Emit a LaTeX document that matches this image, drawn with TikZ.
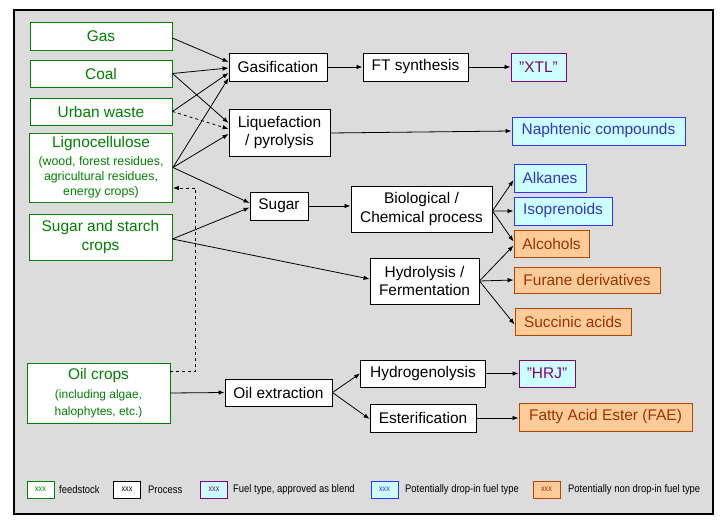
\documentclass[tikz,border=0pt]{standalone}
\usepackage{fontspec}
\setmainfont{Liberation Sans}
\newfontfamily\legfont[FakeStretch=0.86]{Liberation Sans}
\usetikzlibrary{arrows.meta}
\definecolor{bgc}{HTML}{DCDCDC}
\definecolor{feedc}{HTML}{008000}
\definecolor{purp}{HTML}{800080}
\definecolor{cyanf}{HTML}{CCFFFF}
\definecolor{blueb}{HTML}{3333FF}
\definecolor{bluet}{HTML}{3333CC}
\definecolor{orf}{HTML}{FFCC99}
\definecolor{orb}{HTML}{B34700}
\definecolor{ort}{HTML}{993300}
\tikzset{
  box/.style={rectangle, inner sep=0pt, line width=0.9bp, align=center, font=\fontsize{15.5}{18.5}\selectfont},
  feed/.style={box, draw=feedc, fill=white, text=feedc},
  proc/.style={box, draw=black, fill=white, text=black},
  appr/.style={box, draw=purp, fill=cyanf, text=purp},
  dropin/.style={box, draw=blueb, fill=cyanf, text=bluet},
  nondrop/.style={box, draw=orb, fill=orf, text=ort},
  conn/.style={line width=0.8bp, -{Latex[length=6bp,width=4.5bp]}},
  legbox/.style={minimum width=27bp, minimum height=17bp, font=\legfont\fontsize{8.5}{9}\selectfont},
  legtext/.style={anchor=west, inner sep=0pt, font=\legfont\fontsize{11}{12}\selectfont}
}
\begin{document}
\begin{tikzpicture}[x=1bp,y=-1bp]
\useasboundingbox (0,0) rectangle (727,526);
\draw[fill=bgc, line width=1.2bp] (14,10) rectangle (713,514);

% feedstocks
\node[feed, minimum width=142bp, minimum height=28bp] (gas) at (101,36) {Gas};
\node[feed, minimum width=142bp, minimum height=27bp] (coal) at (101,73.5) {Coal};
\node[feed, minimum width=142bp, minimum height=27bp] (urban) at (101,111.5) {Urban waste};
\node[feed, minimum width=143bp, minimum height=69bp] (ligno) at (101,167.5)
  {Lignocellulose\\[-1bp]{\fontsize{12.4}{14}\selectfont (wood, forest residues,}\\[-3bp]{\fontsize{12.4}{14}\selectfont agricultural residues,}\\[-3bp]{\fontsize{12.4}{14}\selectfont energy crops)}};
\node[feed, minimum width=143bp, minimum height=46bp] (sugarcrops) at (100.5,237) {Sugar and starch\\crops};
\node[feed, minimum width=143bp, minimum height=60bp] (oilcrops) at (98.5,393)
  {Oil crops\\[1bp]{\fontsize{12}{14}\selectfont (including algae,}\\[-2bp]{\fontsize{12}{14}\selectfont halophytes, etc.)}};

% processes
\node[proc, minimum width=98bp, minimum height=28bp] (gasif) at (278,67) {Gasification};
\node[proc, minimum width=105bp, minimum height=28bp] (ft) at (415.5,67) {FT synthesis};
\node[proc, minimum width=101bp, minimum height=47bp] (liq) at (279.5,132.5) {Liquefaction\\/ pyrolysis};
\node[proc, minimum width=58bp, minimum height=28bp] (sugar) at (279,206) {Sugar};
\node[proc, minimum width=141bp, minimum height=46bp] (bio) at (421.5,209) {Biological /\\Chemical process};
\node[proc, minimum width=109bp, minimum height=46bp] (hydro) at (424.5,281) {Hydrolysis /\\Fermentation};
\node[proc, minimum width=107bp, minimum height=27bp] (oilext) at (278.5,392.5) {Oil extraction};
\node[proc, minimum width=125bp, minimum height=27bp] (hydrogen) at (423,373.5) {Hydrogenolysis};
\node[proc, minimum width=106bp, minimum height=28bp] (ester) at (423,418) {Esterification};

% products
\node[appr, minimum width=55bp, minimum height=28bp] (xtl) at (538.5,67) {"XTL"};
\node[dropin, minimum width=173bp, minimum height=28bp] (naph) at (598.5,131) {Naphtenic compounds};
\node[dropin, minimum width=72bp, minimum height=28bp] (alk) at (550,178) {Alkanes};
\node[dropin, minimum width=98bp, minimum height=28bp] (iso) at (563,211) {Isoprenoids};
\node[nondrop, minimum width=75bp, minimum height=27bp] (alc) at (551.5,243.5) {Alcohols};
\node[nondrop, minimum width=146bp, minimum height=26bp] (furane) at (587,280) {Furane derivatives};
\node[nondrop, minimum width=116bp, minimum height=27bp] (succ) at (573,321.5) {Succinic acids};
\node[appr, minimum width=56bp, minimum height=27bp] (hrj) at (547,373.5) {"HRJ"};
\node[nondrop, minimum width=173bp, minimum height=28bp] (fae) at (605.5,417) {Fatty Acid Ester (FAE)};

% connectors
\draw[conn] ([yshift=-2bp]gas.east) -- ([yshift=5bp]gasif.west);
\draw[conn] (coal.east) -- ([yshift=-1bp]gasif.west);
\draw[conn] (urban.east) -- ([yshift=-6bp]gasif.west);
\draw[conn] (ligno.east) -- ([yshift=-11bp]gasif.west);
\draw[conn] (coal.east) -- ([yshift=9.5bp]liq.west);
\draw[conn, dashed] (urban.east) -- ([yshift=3.5bp]liq.west);
\draw[conn] (ligno.east) -- ([yshift=-1.5bp]liq.west);
\draw[conn] (ligno.east) -- ([yshift=3bp]sugar.west);
\draw[conn] ([yshift=-2bp]sugarcrops.east) -- ([yshift=-1.5bp]sugar.west);
\draw[conn] ([yshift=-2bp]sugarcrops.east) -- ([yshift=2bp]hydro.west);
\draw[conn] (gasif) -- (ft);
\draw[conn] (ft) -- (xtl);
\draw[conn] ([yshift=-0.5bp]liq.east) -- (naph.west |- 0,131);
\draw[conn] (sugar) -- (sugar.east -| bio.west);
\draw[conn] ([yshift=-2bp]bio.east) -- ([yshift=-2bp]alk.west);
\draw[conn] ([yshift=-2bp]bio.east) -- (iso.west);
\draw[conn] ([yshift=-2bp]bio.east) -- ([yshift=2bp]alc.west);
\draw[conn] (hydro.east) -- ([yshift=-2bp]alc.west);
\draw[conn] (hydro.east) -- (furane.west);
\draw[conn] (hydro.east) -- ([yshift=-3bp]succ.west);
\draw[conn] (oilcrops.east) -- (oilext.west);
\draw[conn] (oilext.east) -- (hydrogen.west);
\draw[conn] (oilext.east) -- ([yshift=-1bp]ester.west);
\draw[conn] (hydrogen) -- (hrj);
\draw[conn] (ester.east) -- (ester.east -| fae.west);
\draw[conn, dashed] ([yshift=-9bp]oilcrops.north east) -- ++(25,0) |- ([yshift=-20.5bp]ligno.east);

% legend
\node[feed, legbox] (l1) at (40.5,489.5) {xxx};
\node[legtext] (t1) at (59,489.5) {feedstock};
\node[proc, legbox] (l2) at (127,489.5) {xxx};
\node[legtext] (t2) at (148,489.5) {Process};
\node[appr, legbox] (l3) at (214,489.5) {xxx};
\node[legtext] (t3) at (233,489.5) {Fuel type, approved as blend};
\node[dropin, legbox] (l4) at (384.5,489.5) {xxx};
\node[legtext] (t4) at (405,489.5) {Potentially drop-in fuel type};
\node[nondrop, legbox] (l5) at (546.5,489.5) {xxx};
\node[legtext] (t5) at (568,489.5) {Potentially non drop-in fuel type};
\end{tikzpicture}
\end{document}
